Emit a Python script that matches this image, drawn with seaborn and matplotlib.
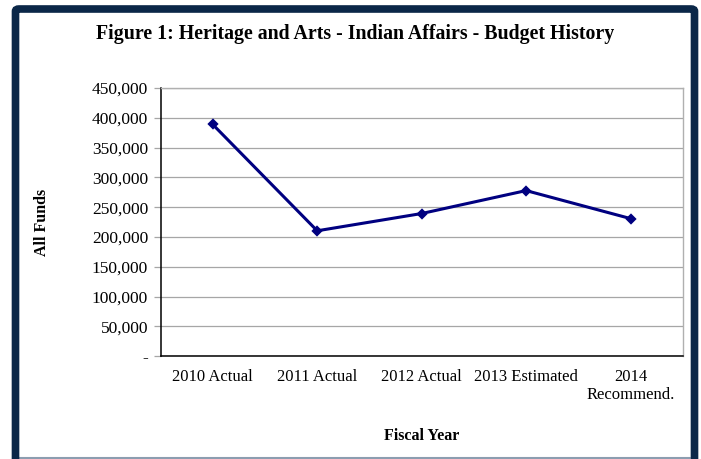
import pandas as pd
import seaborn as sns
import matplotlib.pyplot as plt
from matplotlib.patches import FancyBboxPatch
from matplotlib.ticker import FuncFormatter, FixedLocator

years = ['2010 Actual', '2011 Actual', '2012 Actual', '2013 Estimated', '2014\nRecommend.']
funds = [389000, 210500, 239500, 278000, 231000]
y_ticks = [0, 50000, 100000, 150000, 200000, 250000, 300000, 350000, 400000, 450000]

data = pd.DataFrame({'Fiscal Year': years, 'All Funds': funds})

sns.set_style("white")
plt.rcParams['font.family'] = ['Liberation Serif', 'DejaVu Serif']
plt.rcParams['text.color'] = 'black'
plt.rcParams['axes.labelcolor'] = 'black'

fig = plt.figure(figsize=(7.01, 4.59), dpi=100)
ax = fig.add_axes([0.229, 0.224, 0.745, 0.584])

sns.pointplot(
    data=data,
    x='Fiscal Year',
    y='All Funds',
    order=years,
    color='#000080',
    markers='D',
    markersize=4.5,
    linewidth=2.2,
    errorbar=None,
    ax=ax,
)

ax.set_ylim(0, 450000)
ax.set_xlim(-0.5, len(years) - 0.5)
ax.set_yticks(y_ticks)
ax.yaxis.set_major_formatter(FuncFormatter(lambda v, p: '-' if v == 0 else f'{int(v):,}'))
ax.yaxis.grid(True, color='#a6a6a6', lw=0.9)
ax.set_axisbelow(True)

ax.xaxis.set_minor_locator(FixedLocator([i - 0.5 for i in range(len(years) + 1)]))
ax.tick_params(axis='x', which='major', length=0, pad=9, labelsize=12, labelcolor='black')
ax.tick_params(axis='x', which='minor', length=5, color='#b0b0b0', width=0.9)
ax.tick_params(axis='y', length=5, color='#a6a6a6', width=0.9, labelsize=12.5, pad=4,
               labelcolor='black')
ax.tick_params(left=True, bottom=True)

for side in ['top', 'right']:
    ax.spines[side].set_color('#b0b0b0')
    ax.spines[side].set_linewidth(1)
for side in ['left', 'bottom']:
    ax.spines[side].set_color('black')
    ax.spines[side].set_linewidth(1.1)

ax.set_xlabel('Fiscal Year', fontsize=11.5, fontweight='bold', labelpad=18)
ax.set_ylabel('All Funds', fontsize=11.5, fontweight='bold', labelpad=30)

fig.text(0.506, 0.925, 'Figure 1: Heritage and Arts - Indian Affairs - Budget History',
         ha='center', va='center', fontsize=14.3, fontweight='bold')

# dark frame around the chart
frame = FancyBboxPatch((15.5 / 701, -0.02), (694.5 - 15.5) / 701, 1 - 9 / 459 + 0.02,
                       boxstyle='round,pad=0,rounding_size=0.005',
                       transform=fig.transFigure, fill=False,
                       edgecolor='#0b2748', lw=5.5, zorder=10)
fig.patches.append(frame)
fig.add_artist(plt.Line2D([19 / 701, 690 / 701], [1.5 / 459, 1.5 / 459],
                          transform=fig.transFigure, color='#8c9db0', lw=1.5))

fig.savefig('out.png', dpi=100)
